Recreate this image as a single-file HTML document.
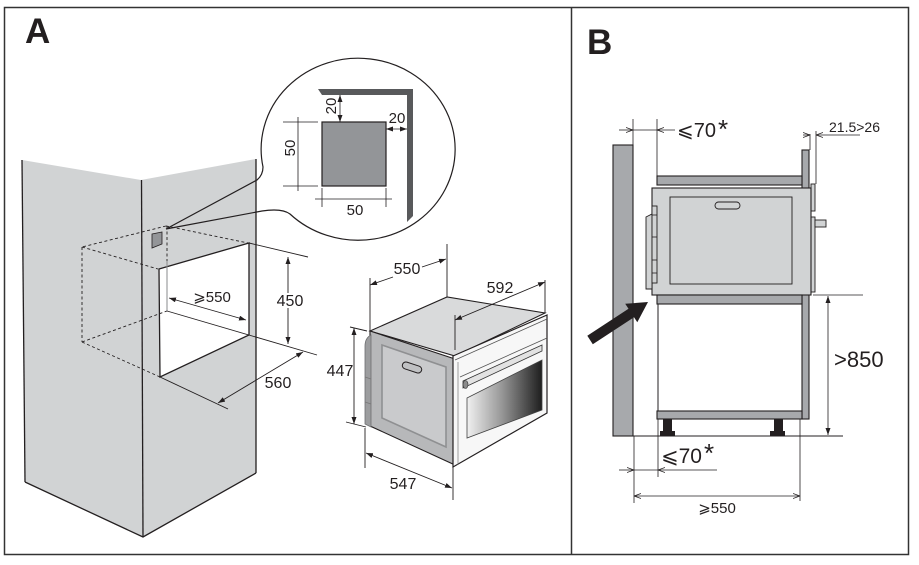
<!DOCTYPE html>
<html><head><meta charset="utf-8"><style>
html,body{margin:0;padding:0;background:#fff;}
svg{display:block;}
text{font-family:"Liberation Sans","DejaVu Sans",sans-serif;fill:#231f20;}
</style></head><body>
<svg width="919" height="565" viewBox="0 0 919 565" xmlns="http://www.w3.org/2000/svg">
<defs>
<marker id="ah" viewBox="0 0 7 5" refX="7" refY="2.5" markerWidth="7" markerHeight="5" markerUnits="userSpaceOnUse" orient="auto-start-reverse"><path d="M0,0 L7,2.5 L0,5 z" fill="#231f20"/></marker>
<marker id="ob" viewBox="0 0 7 6" refX="7" refY="3" markerWidth="7" markerHeight="6" markerUnits="userSpaceOnUse" orient="auto-start-reverse"><path d="M0,0.5 L7,3 L0,5.5" fill="none" stroke="#231f20" stroke-width="0.8"/></marker>
<linearGradient id="win" x1="0" y1="0" x2="1" y2="0"><stop offset="0" stop-color="#f0f0f0"/><stop offset="0.45" stop-color="#9a9a9a"/><stop offset="1" stop-color="#1e1e1e"/></linearGradient>
</defs>

<!-- frame -->
<rect x="4.5" y="7.5" width="904" height="547" fill="none" stroke="#333" stroke-width="1.5"/>
<line x1="571.5" y1="7.5" x2="571.5" y2="554.5" stroke="#333" stroke-width="1.5"/>

<text x="25" y="43" font-size="35" font-weight="bold">A</text>
<text x="587" y="54" font-size="35" font-weight="bold">B</text>

<!-- ===== Panel A: cabinet ===== -->
<polygon points="22,160 141,180 143,537 25,482" fill="#d1d3d4"/>
<polygon points="141,180 256,159 256,473 143,537" fill="#d1d3d4"/>
<g stroke="#231f20" stroke-width="1.3" fill="none">
<line x1="22" y1="160" x2="25" y2="482"/>
<polyline points="25,482 143,537 256,473"/>
<line x1="141.5" y1="180" x2="143" y2="537"/>
<line x1="256" y1="159" x2="256" y2="473"/>
</g>
<!-- opening -->
<polygon points="159,269 249,243 249,335 160,377" fill="#fff" stroke="#231f20" stroke-width="1.3"/>
<line x1="167" y1="261" x2="167" y2="311" stroke="#8a8b8d" stroke-width="1"/>
<g stroke="#231f20" stroke-width="0.9" fill="none">
<line x1="167" y1="311" x2="317" y2="355"/>
<line x1="249" y1="243" x2="308" y2="257"/>
<line x1="160" y1="377" x2="228" y2="409"/>
</g>
<!-- dashed hidden -->
<g stroke="#231f20" stroke-width="0.9" stroke-dasharray="3 2.5" fill="none">
<line x1="166" y1="226" x2="82" y2="247"/>
<line x1="82" y1="247" x2="82" y2="342"/>
<line x1="82" y1="342" x2="160" y2="377"/>
<line x1="82" y1="342" x2="167" y2="311"/>
<line x1="82" y1="247" x2="158" y2="269"/>
<line x1="166" y1="226" x2="248" y2="243"/>
<line x1="167" y1="226" x2="167" y2="261"/>
</g>
<!-- small square -->
<polygon points="152,234 162,232 162,244 152,248" fill="#939598" stroke="#231f20" stroke-width="0.8"/>

<!-- dimensions cabinet -->
<g stroke="#231f20" stroke-width="0.9" fill="none">
<line x1="169" y1="298" x2="246" y2="320" marker-start="url(#ah)" marker-end="url(#ah)"/>
<line x1="288" y1="257" x2="288" y2="293" marker-start="url(#ah)"/>
<line x1="288" y1="308" x2="288" y2="344" marker-end="url(#ah)"/>
<line x1="218" y1="403" x2="303" y2="352" marker-start="url(#ah)" marker-end="url(#ah)"/>
</g>
<text x="212" y="302" font-size="15" text-anchor="middle">⩾550</text>
<text x="290" y="306" font-size="16" text-anchor="middle">450</text>
<text x="278" y="388" font-size="16" text-anchor="middle">560</text>

<!-- bubble -->
<g stroke="#231f20" stroke-width="1.2" fill="none">
<path d="M166,229 L257,180 Q263,175 263,167 A97,91 0 1 1 290,214 Q282,208 262,211 L166,229"/>
</g>
<!-- L wall -->
<polygon points="318,89 413,89 413,216 407,222 407,95 322,95" fill="#58595b"/>
<rect x="322" y="122" width="64" height="64" fill="#939598" stroke="#231f20" stroke-width="1.2"/>
<g stroke="#231f20" stroke-width="0.8" fill="none">
<line x1="340" y1="95" x2="340" y2="122" marker-start="url(#ah)" marker-end="url(#ah)"/>
<line x1="386" y1="129" x2="407" y2="129" marker-start="url(#ah)" marker-end="url(#ah)"/>
<line x1="283" y1="122" x2="318" y2="122"/>
<line x1="283" y1="186" x2="318" y2="186"/>
<line x1="298" y1="117" x2="298" y2="191"/>
<line x1="322" y1="188" x2="322" y2="207"/>
<line x1="386" y1="188" x2="386" y2="207"/>
<line x1="315" y1="199" x2="392" y2="199"/>
</g>
<text transform="translate(331,106) rotate(-90)" font-size="15" text-anchor="middle" y="5">20</text>
<text x="397" y="123" font-size="15" text-anchor="middle">20</text>
<text transform="translate(290,148) rotate(-90)" font-size="15" text-anchor="middle" y="5">50</text>
<text x="355" y="215" font-size="15" text-anchor="middle">50</text>

<!-- ===== Panel A: oven ===== -->
<polygon points="370,331 447,297 545,313 455,356" fill="#d9dadb" stroke="#231f20" stroke-width="1.1"/>
<polygon points="370,331 455,359 455,465 370,426" fill="#b7b8ba" stroke="#231f20" stroke-width="1.1"/>
<polygon points="382,345 446,367 446,447 382,418" fill="#c9cacc" stroke="#8f9092" stroke-width="1.6"/>
<path d="M365,346 Q365,338 371,335 L371,427 L365,424 Z" fill="#9c9d9f" stroke="#6d6e70" stroke-width="0.8"/>
<line x1="365" y1="377" x2="371" y2="379" stroke="#777" stroke-width="0.8"/>
<line x1="365" y1="402" x2="371" y2="404" stroke="#777" stroke-width="0.8"/>
<rect x="402" y="364" width="20" height="7" rx="3.5" transform="rotate(18 412 367.5)" fill="#c0c1c3" stroke="#231f20" stroke-width="1"/>
<polygon points="453,356 547,315 547,413 453,467" fill="#f7f7f7" stroke="#231f20" stroke-width="1.2"/>
<line x1="455" y1="360" x2="547" y2="319" stroke="#555" stroke-width="0.8"/>
<line x1="458" y1="362" x2="458" y2="465" stroke="#777" stroke-width="0.7"/>
<line x1="460" y1="377" x2="547" y2="338" stroke="#555" stroke-width="0.8"/>
<polygon points="463,381 542,345 542,351 463,388" fill="#e2e2e2" stroke="#333" stroke-width="0.8"/>
<ellipse cx="465.5" cy="384.5" rx="2.5" ry="4" fill="#8a8a8a" stroke="#333" stroke-width="0.6"/>
<polygon points="467,398 542,360 542,410 467,438" fill="url(#win)" stroke="#444" stroke-width="0.8"/>

<g stroke="#231f20" stroke-width="0.9" fill="none">
<line x1="370" y1="278" x2="370" y2="331"/>
<line x1="447" y1="244" x2="447" y2="297"/>
<line x1="370" y1="285" x2="393" y2="277" marker-start="url(#ah)"/>
<line x1="422" y1="267" x2="446" y2="259" marker-end="url(#ah)"/>
<line x1="545" y1="280" x2="545" y2="313"/>
<line x1="455" y1="315" x2="455" y2="350"/>
<line x1="455" y1="320" x2="545" y2="282" marker-start="url(#ah)" marker-end="url(#ah)"/>
<line x1="350" y1="327" x2="367" y2="331"/>
<line x1="346" y1="422" x2="366" y2="427"/>
<line x1="354" y1="328" x2="354" y2="424" marker-start="url(#ah)" marker-end="url(#ah)"/>
<line x1="365" y1="428" x2="365" y2="468"/>
<line x1="453" y1="467" x2="453" y2="500"/>
<line x1="366" y1="453" x2="452" y2="488" marker-start="url(#ah)" marker-end="url(#ah)"/>
</g>
<text x="407" y="274" font-size="16" text-anchor="middle">550</text>
<text x="500" y="293" font-size="16" text-anchor="middle">592</text>
<text x="340" y="376" font-size="16" text-anchor="middle">447</text>
<text x="403" y="489" font-size="16" text-anchor="middle">547</text>

<!-- ===== Panel B ===== -->
<rect x="613" y="145" width="20" height="291" fill="#a7a9ac" stroke="#231f20" stroke-width="1.1"/>
<rect x="802" y="150" width="7" height="269" fill="#a7a9ac" stroke="#231f20" stroke-width="1.1"/>
<rect x="657" y="176" width="145" height="9" fill="#a7a9ac" stroke="#231f20" stroke-width="1.1"/>
<!-- oven -->
<rect x="811" y="184" width="4" height="27" fill="#d1d3d4" stroke="#231f20" stroke-width="0.9"/>
<rect x="811" y="217" width="4" height="75" fill="#d1d3d4" stroke="#231f20" stroke-width="0.9"/>
<rect x="815" y="220" width="11" height="7" fill="#d1d3d4" stroke="#231f20" stroke-width="0.9"/>
<rect x="652" y="188" width="159" height="107" fill="#d1d3d4" stroke="#231f20" stroke-width="1.1"/>
<rect x="670" y="197" width="122" height="87" fill="none" stroke="#231f20" stroke-width="0.9"/>
<rect x="715" y="202" width="25" height="7" rx="3.5" fill="#d1d3d4" stroke="#231f20" stroke-width="0.9"/>
<path d="M646,217 L652,214 L652,289 L646,289 Z" fill="#d1d3d4" stroke="#231f20" stroke-width="0.9"/>
<rect x="652" y="206" width="5" height="77" fill="#d1d3d4" stroke="#231f20" stroke-width="0.9"/>
<g stroke="#231f20" stroke-width="0.8">
<line x1="652" y1="215" x2="657" y2="215"/>
<line x1="652" y1="237" x2="657" y2="237"/>
<line x1="652" y1="260" x2="657" y2="260"/>
<line x1="652" y1="273" x2="657" y2="273"/>
</g>
<!-- lower cabinet -->
<rect x="657" y="295" width="145" height="9" fill="#a7a9ac" stroke="#231f20" stroke-width="1.1"/>
<line x1="658" y1="304" x2="658" y2="411" stroke="#231f20" stroke-width="1"/>
<rect x="657" y="411" width="145" height="8" fill="#a7a9ac" stroke="#231f20" stroke-width="1.1"/>
<rect x="663" y="419" width="9" height="13" fill="#231f20"/>
<rect x="660" y="431" width="15" height="5" fill="#231f20"/>
<rect x="774" y="419" width="9" height="13" fill="#231f20"/>
<rect x="770" y="431" width="15" height="5" fill="#231f20"/>
<line x1="630" y1="436" x2="843" y2="436" stroke="#231f20" stroke-width="1"/>
<!-- big arrow -->
<polygon points="648,302 637.3,322.2 634,317.2 592.8,344.2 587.3,335.8 628.5,308.8 625.2,303.8" fill="#231f20"/>

<g stroke="#231f20" stroke-width="0.8" fill="none">
<!-- top <=70 -->
<line x1="633" y1="119" x2="633" y2="145"/>
<line x1="657" y1="119" x2="657" y2="176"/>
<line x1="619" y1="130" x2="633" y2="130" marker-end="url(#ob)"/>
<line x1="633" y1="130" x2="657" y2="130"/>
<line x1="675" y1="130" x2="657" y2="130" marker-end="url(#ob)"/>
<!-- 21.5>26 -->
<line x1="810" y1="134" x2="810" y2="150"/>
<line x1="816" y1="131" x2="816" y2="184"/>
<line x1="803" y1="135" x2="810" y2="135" marker-end="url(#ob)"/>
<line x1="860" y1="135" x2="816" y2="135" marker-end="url(#ob)"/>
<!-- 850 -->
<line x1="813" y1="295" x2="863" y2="295"/>
<line x1="828" y1="296" x2="828" y2="435" marker-start="url(#ah)" marker-end="url(#ah)"/>
<!-- bottom <=70 -->
<line x1="634" y1="436" x2="634" y2="503"/>
<line x1="658" y1="419" x2="658" y2="477"/>
<line x1="619" y1="470" x2="634" y2="470" marker-end="url(#ob)"/>
<line x1="634" y1="470" x2="658" y2="470"/>
<line x1="717" y1="470" x2="658" y2="470" marker-end="url(#ob)"/>
<!-- >=550 -->
<line x1="800" y1="419" x2="800" y2="501"/>
<line x1="634" y1="496" x2="800" y2="496" marker-start="url(#ob)" marker-end="url(#ob)"/>
</g>
<text x="677" y="137" font-size="20">⩽70</text>
<text x="718" y="138" font-size="26">*</text>
<text x="829" y="132" font-size="14">21.5&gt;26</text>
<text x="834" y="367" font-size="22">&gt;850</text>
<text x="661" y="463" font-size="21">⩽70</text>
<text x="704" y="462" font-size="26">*</text>
<text x="717" y="513" font-size="15" text-anchor="middle">⩾550</text>
</svg>
</body></html>
